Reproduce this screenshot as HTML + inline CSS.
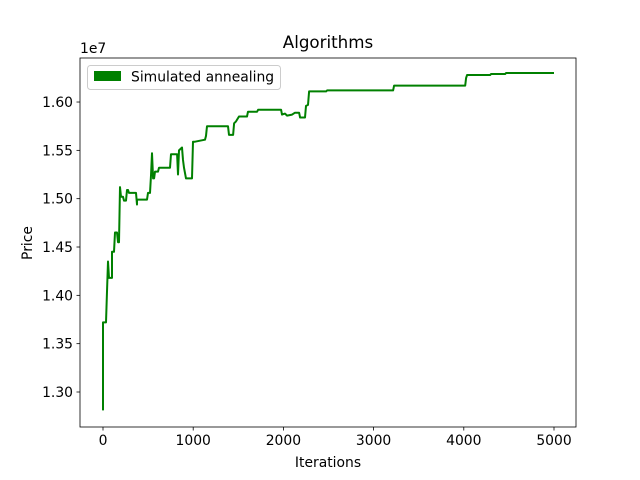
<!DOCTYPE html>
<html><head><meta charset="utf-8"><style>body{margin:0;background:#fff}svg{display:block;font-family:"DejaVu Sans","Liberation Sans",sans-serif}</style></head>
<body>
<svg id="chart" width="640" height="480" xmlns="http://www.w3.org/2000/svg">
<rect width="640" height="480" fill="#fff"/>
<text x="328" y="48" font-size="16.7" text-anchor="middle">Algorithms</text>
<text x="80" y="53" font-size="13.9">1e7</text>
<g id="xt"></g>
<g id="yt"></g>
<path id="line" fill="none" stroke="#008000" stroke-width="2" stroke-linejoin="round"/>
<rect x="80" y="58" width="496" height="369" fill="none" stroke="#000" stroke-width="0.8"/>
<text x="328" y="467" font-size="13.9" text-anchor="middle">Iterations</text>
<text transform="translate(32,243) rotate(-90)" font-size="13.9" text-anchor="middle">Price</text>
<g>
<rect x="87.5" y="65.5" width="193" height="24" rx="3" fill="#fff" fill-opacity="0.8" stroke="#ccc"/>
<rect x="94" y="71" width="27" height="10" fill="#008000"/>
<text x="131" y="81.5" font-size="13.9">Simulated annealing</text>
</g>
</svg>
<script>
const iterations=[0,0,0,33,44,55,67,100,100,122,133,155,166,177,189,200,222,233,255,266,277,288,366,377,377,488,499,521,532,543,555,566,577,610,621,743,754,821,832,843,876,887,898,920,987,998,1020,1131,1142,1153,1386,1397,1442,1453,1475,1508,1597,1608,1708,1719,1974,1985,2018,2041,2096,2129,2174,2185,2240,2251,2273,2285,2473,2484,3216,3227,4015,4026,4037,4292,4303,4458,4469,5000];
const prices=[1.281,1.281,1.372,1.372,1.404,1.435,1.418,1.418,1.445,1.445,1.465,1.465,1.455,1.455,1.512,1.502,1.502,1.498,1.498,1.509,1.509,1.506,1.506,1.494,1.499,1.499,1.506,1.506,1.524,1.547,1.521,1.521,1.528,1.528,1.532,1.532,1.546,1.546,1.525,1.550,1.553,1.540,1.532,1.521,1.521,1.559,1.559,1.561,1.565,1.575,1.575,1.566,1.566,1.578,1.580,1.585,1.585,1.590,1.590,1.592,1.592,1.587,1.588,1.586,1.587,1.589,1.589,1.584,1.584,1.596,1.597,1.611,1.611,1.612,1.612,1.617,1.617,1.625,1.628,1.628,1.629,1.629,1.630,1.630];
const xTicks=[0,1000,2000,3000,4000,5000];
const yTicks=[1.30,1.35,1.40,1.45,1.50,1.55,1.60];
const NS="http://www.w3.org/2000/svg";
function xs(v){return 103+v*(451/5000);}
function ys(v){return 392-(v-1.30)*(48.33/0.05);}
let d="";
for(let i=0;i<iterations.length;i++){d+=(i?"L":"M")+xs(iterations[i]).toFixed(1)+","+ys(prices[i]).toFixed(1);}
document.getElementById('line').setAttribute('d',d);
const xt=document.getElementById('xt'),yt=document.getElementById('yt');
xTicks.forEach(t=>{
 const l=document.createElementNS(NS,'line');
 l.setAttribute('x1',xs(t));l.setAttribute('x2',xs(t));l.setAttribute('y1',427);l.setAttribute('y2',430.5);l.setAttribute('stroke','#000');l.setAttribute('stroke-width','0.8');
 
 
 xt.appendChild(l);
 const s=document.createElementNS(NS,'text');
 s.setAttribute('x',xs(t));s.setAttribute('y',445);s.setAttribute('font-size','13.9');s.setAttribute('text-anchor','middle');s.textContent=t;
 
 
 xt.appendChild(s);
});
yTicks.forEach(t=>{
 const l=document.createElementNS(NS,'line');
 l.setAttribute('x1',76.5);l.setAttribute('x2',80);l.setAttribute('y1',ys(t));l.setAttribute('y2',ys(t));l.setAttribute('stroke','#000');l.setAttribute('stroke-width','0.8');
 
 
 yt.appendChild(l);
 const s=document.createElementNS(NS,'text');
 s.setAttribute('x',73);s.setAttribute('y',ys(t)+5);s.setAttribute('font-size','13.9');s.setAttribute('text-anchor','end');s.textContent=t.toFixed(2);
 
 
 yt.appendChild(s);
});
</script>
</body></html>
